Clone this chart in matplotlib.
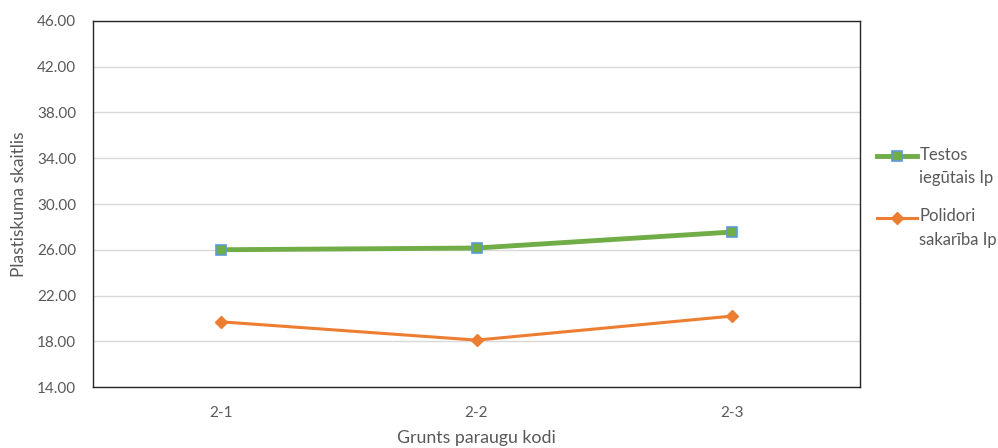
import matplotlib.pyplot as plt
from matplotlib.ticker import FormatStrFormatter
from matplotlib.transforms import Affine2D

# Data
categories = ['2-1', '2-2', '2-3']
testos_lp = [26.0, 26.15, 27.55]
polidori_lp = [19.7, 18.1, 20.2]
y_ticks = [14, 18, 22, 26, 30, 34, 38, 42, 46]

plt.rcParams['font.family'] = ['Lato', 'DejaVu Sans']
gray_text = '#595959'
green = '#70AD47'
orange = '#ED7D31'

fig = plt.figure(figsize=(9.98, 4.48), dpi=100)
ax = fig.add_axes([93 / 998, 1 - 387 / 448, 767 / 998, 366 / 448])

x = range(len(categories))
ax.plot(x, testos_lp, color=green, linewidth=3.5, marker='s', markersize=7,
        markerfacecolor=green, markeredgecolor='#5B9BD5', markeredgewidth=1.2,
        label='Testos\niegūtais Ip')
ax.plot(x, polidori_lp, color=orange, linewidth=2.2, marker='D', markersize=6,
        markerfacecolor=orange, markeredgecolor=orange,
        label='Polidori\nsakarība Ip')

ax.set_xlim(-0.5, 2.5)
ax.set_ylim(14, 46)
ax.set_xticks(list(x))
ax.set_xticklabels(categories)
ax.set_yticks(y_ticks)
ax.yaxis.set_major_formatter(FormatStrFormatter('%.2f'))
ax.grid(axis='y', color='#D9D9D9', linewidth=1)
ax.set_axisbelow(True)
ax.tick_params(length=0, colors=gray_text, labelsize=11)
ax.tick_params(axis='x', pad=14)
ax.tick_params(axis='y', pad=12)
for s in ax.spines.values():
    s.set_color('#262626')
    s.set_linewidth(1)

ax.set_ylabel('Plastiskuma skaitlis', color=gray_text, fontsize=12.5, labelpad=7)
ax.set_xlabel('Grunts paraugu kodi', color=gray_text, fontsize=12.8, labelpad=7)

leg = ax.legend(loc='upper left', bbox_to_anchor=(1.014, 0.675), frameon=False,
                fontsize=12, labelcolor=gray_text, handlelength=2.4,
                handletextpad=0.12, labelspacing=1.3, borderaxespad=0)
for t in leg.get_texts():
    t.set_linespacing(1.6)
# put the legend symbol level with the first line of each label
for h in leg.legend_handles:
    h.set_transform(h.get_transform() + Affine2D().translate(0, 11))

plt.savefig('out.png', dpi=100)
